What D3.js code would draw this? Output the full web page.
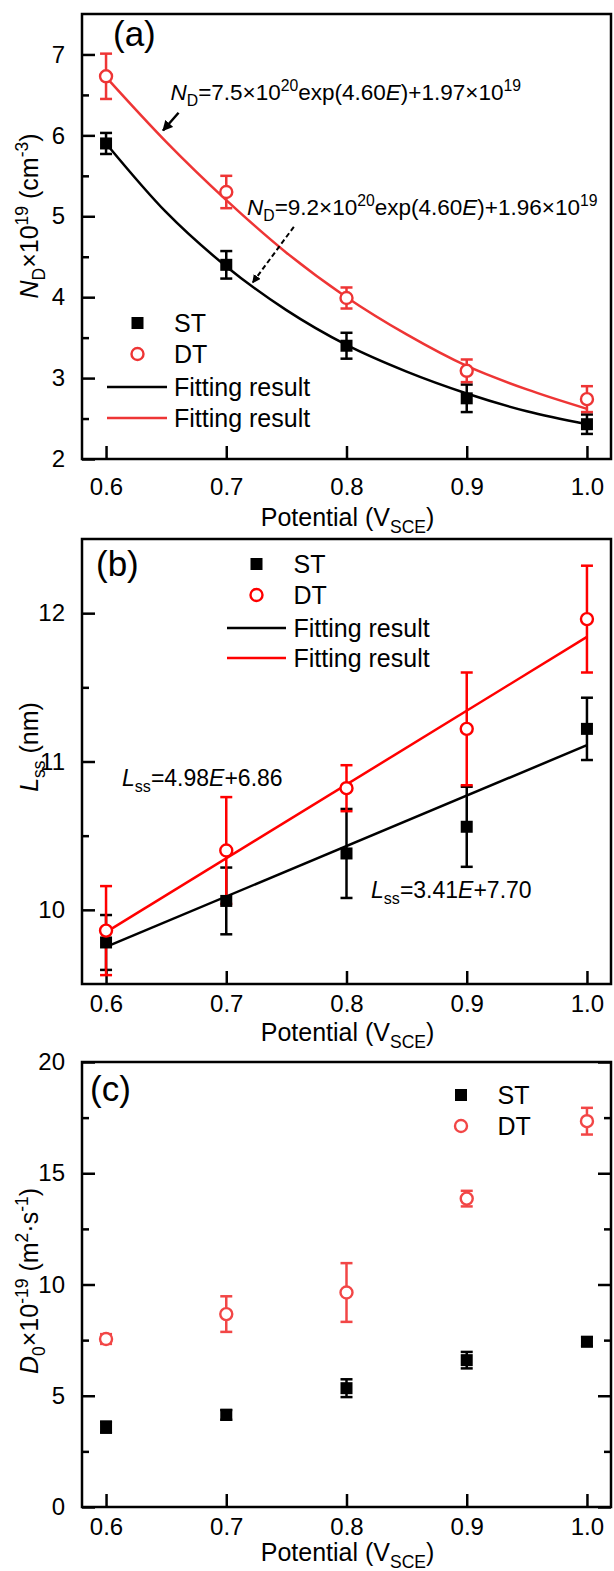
<!DOCTYPE html>
<html>
<head>
<meta charset="utf-8">
<script src="https://cdn.jsdelivr.net/npm/d3@7"></script>
<style>
  html, body { margin: 0; padding: 0; background: #fff; }
  svg { display: block; }
</style>
</head>
<body>
<svg id="chart" width="614" height="1571"></svg>
<script>
// ---------------- DATA ----------------
const potentials = [0.6, 0.7, 0.8, 0.9, 1.0];
const xTickValues = [0.6, 0.7, 0.8, 0.9, 1.0];

// (a) donor density N_D x 10^19 (cm^-3)
const ndST = [5.90, 4.40, 3.40, 2.75, 2.43];
const ndSTerr = [0.13, 0.17, 0.16, 0.17, 0.12];
const ndDT = [6.73, 5.30, 3.99, 3.09, 2.74];
const ndDTerr = [0.28, 0.20, 0.13, 0.14, 0.16];
const ndFitX = [0.6, 0.65, 0.7, 0.75, 0.8, 0.85, 0.9, 0.95, 1.0];
const ndFitST = [5.90, 5.05, 4.38, 3.84, 3.41, 3.08, 2.81, 2.59, 2.43];
const ndFitDT = [6.72, 5.92, 5.20, 4.55, 4.00, 3.54, 3.15, 2.86, 2.62];
const ndTicks = [2, 3, 4, 5, 6, 7];
const ndMinor = [2.5, 3.5, 4.5, 5.5, 6.5];

// (b) L_ss (nm)
const lssST = [9.78, 10.06, 10.38, 10.56, 11.22];
const lssSTerr = [0.185, 0.225, 0.30, 0.27, 0.21];
const lssDT = [9.86, 10.40, 10.82, 11.22, 11.96];
const lssDTerr = [0.30, 0.36, 0.155, 0.38, 0.36];
const lssFitX = [0.6, 1.0];
const lssFitST = [9.75, 11.11];
const lssFitDT = [9.85, 11.84];
const lssTicks = [10, 11, 12];
const lssMinor = [10.5, 11.5];

// (c) D0 x 10^-19 (m^2 s^-1)
const d0ST = [3.59, 4.14, 5.34, 6.60, 7.43];
const d0STerr = [0.25, 0.22, 0.40, 0.37, 0.20];
const d0DT = [7.55, 8.67, 9.64, 13.86, 17.34];
const d0DTerr = [0.22, 0.80, 1.32, 0.35, 0.60];
const d0Ticks = [0, 5, 10, 15, 20];
const d0Minor = [2.5, 7.5, 12.5, 17.5];

const legendFull = ["ST", "DT", "Fitting result", "Fitting result"];
const legendShort = ["ST", "DT"];

// ---------------- LAYOUT ----------------
const FONT = "Arial, 'Liberation Sans', Helvetica, sans-serif";
const svg = d3.select("#chart");
svg.append("rect").attr("width", 614).attr("height", 1571).attr("fill", "#fff");

const L = 82, R = 611, PH = 445;
const x = d3.scaleLinear().domain([0.58, 1.02]).range([L, R]);

const defs = svg.append("defs");
defs.append("marker").attr("id", "arrowhead")
  .attr("viewBox", "0 0 10 10").attr("refX", 9).attr("refY", 5)
  .attr("markerWidth", 4.2).attr("markerHeight", 4.2).attr("orient", "auto")
  .append("path").attr("d", "M0,0 L10,5 L0,10 Z").attr("fill", "#000");

// rich text helper: parts = [[text, style]], style: "", "i", "sub", "sup"
function rich(g, px, py, parts, fs, opts = {}) {
  const t = g.append("text").attr("x", px).attr("y", py)
    .attr("font-family", FONT).attr("font-size", fs).attr("fill", opts.fill || "#000");
  if (opts.anchor) t.attr("text-anchor", opts.anchor);
  if (opts.transform) t.attr("transform", opts.transform);
  let shift = 0;
  parts.forEach(([s, st]) => {
    const sp = t.append("tspan").text(s);
    let target = 0;
    if (st === "sub") target = 0.28 * fs;
    if (st === "sup") target = -0.42 * fs;
    const dy = target - shift;
    if (dy !== 0) sp.attr("dy", dy);
    shift = target;
    if (st === "sub" || st === "sup") sp.attr("font-size", fs * 0.7);
    if (st === "i") sp.attr("font-style", "italic");
  });
  return t;
}

function panel(cfg) {
  const top = cfg.top, bottom = top + PH;
  const y = d3.scaleLinear().domain(cfg.yDomain).range([bottom, top]);
  const g = svg.append("g");

  const ya = g.append("g").attr("transform", `translate(${L},0)`)
    .call(d3.axisLeft(y).tickValues(cfg.yTicks).tickSizeInner(-13).tickSizeOuter(0)
      .tickPadding(17).tickFormat(d3.format("d")));
  const ym = g.append("g").attr("transform", `translate(${L},0)`)
    .call(d3.axisLeft(y).tickValues(cfg.yMinor).tickSizeInner(-7).tickSizeOuter(0).tickFormat(""));
  [ya, ym].forEach(a => { a.select(".domain").remove(); a.selectAll("line").attr("stroke-width", 2.5); });
  ya.attr("font-size", 24).attr("font-family", FONT);
  ya.selectAll("text").attr("fill", "#000");

  if (cfg.rightTicks) {
    const ra = g.append("g").attr("transform", `translate(${R},0)`)
      .call(d3.axisRight(y).tickValues(cfg.yTicks).tickSizeInner(-13).tickSizeOuter(0).tickFormat(""));
    const rm = g.append("g").attr("transform", `translate(${R},0)`)
      .call(d3.axisRight(y).tickValues(cfg.yMinor).tickSizeInner(-7).tickSizeOuter(0).tickFormat(""));
    [ra, rm].forEach(a => { a.select(".domain").remove(); a.selectAll("line").attr("stroke-width", 2.5); });
  }

  const xa = g.append("g").attr("transform", `translate(0,${bottom})`)
    .call(d3.axisBottom(x).tickValues(xTickValues).tickSizeInner(-13).tickSizeOuter(0)
      .tickPadding(cfg.xLabelBase - 17).tickFormat(d3.format(".1f")));
  xa.select(".domain").remove();
  xa.selectAll("line").attr("stroke-width", 2.5);
  xa.attr("font-size", 24).attr("font-family", FONT);
  xa.selectAll("text").attr("fill", "#000");

  g.append("rect").attr("x", L).attr("y", top).attr("width", R - L).attr("height", PH)
    .attr("fill", "none").attr("stroke", "#000").attr("stroke-width", 2.5);

  rich(g, (L + R) / 2 + 1, bottom + cfg.xTitleBase, [["Potential (V", ""], ["SCE", "sub"], [")", ""]], 25, { anchor: "middle" });

  rich(g, 0, 0, cfg.yTitle, 25, { anchor: "middle", transform: `translate(38,${cfg.yTitleCenter}) rotate(-90)` });

  g.append("text").attr("x", cfg.labelX).attr("y", cfg.labelY).attr("font-family", FONT)
    .attr("font-size", cfg.labelSize).text(cfg.label);

  return { g, y };
}

function fitLine(g, xs, ys, y, color, curve) {
  const line = d3.line().x(d => x(d[0])).y(d => y(d[1])).curve(curve || d3.curveLinear);
  g.append("path").datum(xs.map((v, i) => [v, ys[i]])).attr("d", line)
    .attr("fill", "none").attr("stroke", color).attr("stroke-width", 2.5);
}

function errorBars(g, vals, errs, y, color) {
  const eg = g.append("g").attr("stroke", color).attr("stroke-width", 2.5);
  potentials.forEach((p, i) => {
    const cx = x(p), y1 = y(vals[i] + errs[i]), y2 = y(vals[i] - errs[i]);
    eg.append("line").attr("x1", cx).attr("x2", cx).attr("y1", y1).attr("y2", y2);
    eg.append("line").attr("x1", cx - 6).attr("x2", cx + 6).attr("y1", y1).attr("y2", y1);
    eg.append("line").attr("x1", cx - 6).attr("x2", cx + 6).attr("y1", y2).attr("y2", y2);
  });
}

function squares(g, vals, y) {
  g.append("g").selectAll("rect").data(vals).join("rect")
    .attr("x", (d, i) => x(potentials[i]) - 6).attr("y", d => y(d) - 6)
    .attr("width", 12).attr("height", 12).attr("fill", "#000");
}
function circles(g, vals, y, color) {
  g.append("g").selectAll("circle").data(vals).join("circle")
    .attr("cx", (d, i) => x(potentials[i])).attr("cy", d => y(d)).attr("r", 6)
    .attr("fill", "#fff").attr("stroke", color).attr("stroke-width", 2.4);
}

function legend(g, labels, mx, tx, rows, red, lineX1, lineX2) {
  labels.forEach((lab, i) => {
    const cy = rows[i];
    if (i === 0) g.append("rect").attr("x", mx - 6).attr("y", cy - 6).attr("width", 12).attr("height", 12).attr("fill", "#000");
    if (i === 1) g.append("circle").attr("cx", mx).attr("cy", cy).attr("r", 6).attr("fill", "#fff").attr("stroke", red).attr("stroke-width", 2.4);
    if (i >= 2) g.append("line").attr("x1", lineX1).attr("x2", lineX2).attr("y1", cy).attr("y2", cy)
      .attr("stroke", i === 2 ? "#000" : red).attr("stroke-width", 2.5);
    g.append("text").attr("x", tx).attr("y", cy + 9).attr("font-family", FONT).attr("font-size", 25).text(lab);
  });
}

// ---------------- PANEL (a) ----------------
const redA = "#ee3535";
const A = panel({
  top: 14, yDomain: [2, 7.5], yTicks: ndTicks, yMinor: ndMinor, rightTicks: false,
  xLabelBase: 36, xTitleBase: 67,
  yTitle: [["N", "i"], ["D", "sub"], ["×10", ""], ["19", "sup"], ["\u00A0(cm", ""], ["-3", "sup"], [")", ""]],
  yTitleCenter: 216, label: "(a)", labelX: 113, labelY: 46, labelSize: 35
});
fitLine(A.g, ndFitX, ndFitST, A.y, "#000", d3.curveMonotoneX);
fitLine(A.g, ndFitX, ndFitDT, A.y, redA, d3.curveMonotoneX);
errorBars(A.g, ndST, ndSTerr, A.y, "#000");
errorBars(A.g, ndDT, ndDTerr, A.y, redA);
squares(A.g, ndST, A.y);
circles(A.g, ndDT, A.y, redA);
legend(A.g, legendFull, 137.5, 174, [323, 354, 387, 418], redA, 107, 167);

rich(A.g, 170.5, 100, [["N", "i"], ["D", "sub"], ["=7.5×10", ""], ["20", "sup"], ["exp(4.60", ""], ["E", "i"], [")+1.97×10", ""], ["19", "sup"]], 22.5);
rich(A.g, 247, 215, [["N", "i"], ["D", "sub"], ["=9.2×10", ""], ["20", "sup"], ["exp(4.60", ""], ["E", "i"], [")+1.96×10", ""], ["19", "sup"]], 22.5);
A.g.append("line").attr("x1", x(0.6603)).attr("y1", A.y(6.28)).attr("x2", x(0.6474)).attr("y2", A.y(6.06))
  .attr("stroke", "#000").attr("stroke-width", 2.5).attr("marker-end", "url(#arrowhead)");
A.g.append("line").attr("x1", x(0.7562)).attr("y1", A.y(4.87)).attr("x2", x(0.722)).attr("y2", A.y(4.18))
  .attr("stroke", "#000").attr("stroke-width", 2).attr("stroke-dasharray", "5,3").attr("marker-end", "url(#arrowhead)");

// ---------------- PANEL (b) ----------------
const redB = "#ff0000";
const B = panel({
  top: 539, yDomain: [9.5, 12.5], yTicks: lssTicks, yMinor: lssMinor, rightTicks: false,
  xLabelBase: 28, xTitleBase: 57,
  yTitle: [["L", "i"], ["ss", "sub"], ["\u00A0(nm)", ""]],
  yTitleCenter: 747, label: "(b)", labelX: 96, labelY: 576, labelSize: 35
});
fitLine(B.g, lssFitX, lssFitST, B.y, "#000");
fitLine(B.g, lssFitX, lssFitDT, B.y, redB);
errorBars(B.g, lssST, lssSTerr, B.y, "#000");
errorBars(B.g, lssDT, lssDTerr, B.y, redB);
squares(B.g, lssST, B.y);
circles(B.g, lssDT, B.y, redB);
legend(B.g, legendFull, 256.5, 293.5, [564, 595, 628, 658], redB, 227, 286);
rich(B.g, 122, 786, [["L", "i"], ["ss", "sub"], ["=4.98", ""], ["E", "i"], ["+6.86", ""]], 23);
rich(B.g, 371, 898, [["L", "i"], ["ss", "sub"], ["=3.41", ""], ["E", "i"], ["+7.70", ""]], 23);

// ---------------- PANEL (c) ----------------
const redC = "#f24646";
const C = panel({
  top: 1062, yDomain: [0, 20], yTicks: d0Ticks, yMinor: d0Minor, rightTicks: true,
  xLabelBase: 28, xTitleBase: 54,
  yTitle: [["D", "i"], ["0", "sub"], ["×10", ""], ["-19", "sup"], ["\u00A0(m", ""], ["2", "sup"], ["·s", ""], ["-1", "sup"], [")", ""]],
  yTitleCenter: 1281, label: "(c)", labelX: 90, labelY: 1101, labelSize: 35
});
errorBars(C.g, d0ST, d0STerr, C.y, "#000");
errorBars(C.g, d0DT, d0DTerr, C.y, redC);
squares(C.g, d0ST, C.y);
circles(C.g, d0DT, C.y, redC);
legend(C.g, legendShort, 461, 497.5, [1095, 1126], redC, 0, 0);
</script>
</body>
</html>
